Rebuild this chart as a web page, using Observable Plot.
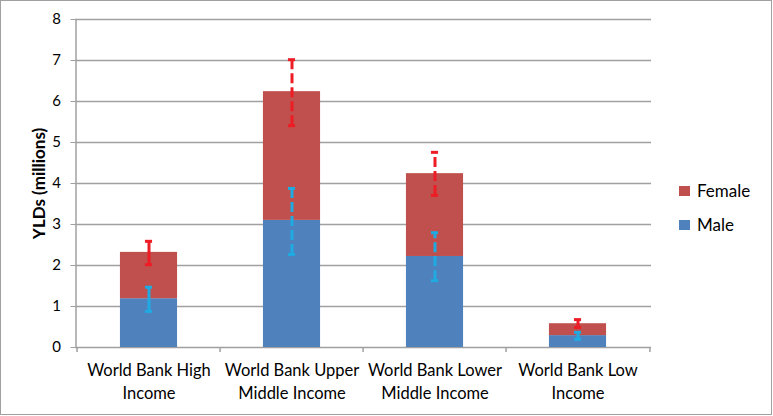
<!DOCTYPE html>
<html><head><meta charset="utf-8">
<script src="https://cdn.jsdelivr.net/npm/d3@7"></script>
<script src="https://cdn.jsdelivr.net/npm/@observablehq/plot@0.6"></script>
<style>
body{margin:0;background:#fff;}
#wrap{position:relative;width:773px;height:416px;font-family:Lato,"Open Sans",sans-serif;overflow:hidden;}
#frame{position:absolute;left:0;top:0;width:770px;height:413px;border:1.5px solid #a0a0a0;pointer-events:none;}
.leg{position:absolute;left:679px;font-size:17px;color:#000;display:flex;align-items:center;}
.leg span.sw{display:inline-block;width:11px;height:10px;margin-right:7px;}
</style></head>
<body><div id="wrap"><div id="chart"></div><div id="frame"></div>
<div class="leg" style="top:180px"><span class="sw" style="background:#C0504D"></span>Female</div>
<div class="leg" style="top:214px"><span class="sw" style="background:#4F81BD"></span>Male</div>
</div>
<script>
const categories = ["World Bank High Income", "World Bank Upper Middle Income", "World Bank Lower Middle Income", "World Bank Low Income"];
const tickLabels = ["World Bank High\nIncome", "World Bank Upper\nMiddle Income", "World Bank Lower\nMiddle Income", "World Bank Low\nIncome"];
const sexes = ["Male", "Female"];
const maleValues = [1.19, 3.10, 2.22, 0.29];
const femaleValues = [1.13, 3.14, 2.02, 0.29];
// error bar extents (female bars are drawn on the stacked total)
const maleErrLow = [0.88, 2.27, 1.63, 0.20];
const maleErrHigh = [1.47, 3.88, 2.80, 0.37];
const femaleErrLow = [2.02, 5.41, 3.71, 0.49];
const femaleErrHigh = [2.59, 7.02, 4.76, 0.68];
const yTicks = [0, 1, 2, 3, 4, 5, 6, 7, 8];

const rows = [];
categories.forEach((c, i) => {
  rows.push({cat: c, sex: "Male", value: maleValues[i]});
  rows.push({cat: c, sex: "Female", value: femaleValues[i]});
});
const errs = [];
categories.forEach((c, i) => {
  errs.push({cat: c, sex: "Male", lo: maleErrLow[i], hi: maleErrHigh[i]});
  errs.push({cat: c, sex: "Female", lo: femaleErrLow[i], hi: femaleErrHigh[i]});
});

const W = 773, H = 416, ML = 75.5, MR = 122, MT = 19, MB = 69;
const step = (W - ML - MR) / categories.length;
const inset = (step - 58) / 2;
const errColor = {Male: "#1FAAE2", Female: "#EE1C25"};
const solid = d => d.cat === categories[0];
const dashed = d => d.cat !== categories[0];

function errMarks(filter, dash) {
  const capInset = step / 2 - 4;
  return [
    Plot.ruleX(errs, {filter, x: "cat", y1: "lo", y2: "hi", stroke: d => errColor[d.sex], strokeWidth: 3, strokeDasharray: dash}),
    Plot.tickY(errs, {filter, x: "cat", y: "lo", stroke: d => errColor[d.sex], strokeWidth: 3, insetLeft: capInset, insetRight: capInset}),
    Plot.tickY(errs, {filter, x: "cat", y: "hi", stroke: d => errColor[d.sex], strokeWidth: 3, insetLeft: capInset, insetRight: capInset})
  ];
}

const chart = Plot.plot({
  width: W, height: H,
  marginLeft: ML, marginRight: MR, marginTop: MT, marginBottom: MB,
  style: {fontFamily: "Lato, 'Open Sans', sans-serif", fontSize: "15px", color: "#000", background: "transparent"},
  x: {domain: categories, padding: 0, label: null},
  y: {domain: [0, 8], label: null},
  color: {domain: sexes, range: ["#4F81BD", "#C0504D"]},
  marks: [
    Plot.ruleY(yTicks, {stroke: "#A0A0A0", strokeWidth: 1.5}),
    Plot.frame({anchor: "left", stroke: "#A0A0A0", strokeWidth: 1.5}),
    Plot.ruleX(categories, {x: d => d, y1: 0, y2: 0, dx: -step/2, insetBottom: -5, stroke: "#A0A0A0", strokeWidth: 1.5}),
    Plot.ruleX(categories.slice(-1), {x: d => d, y1: 0, y2: 0, dx: step/2, insetBottom: -5, stroke: "#A0A0A0", strokeWidth: 1.5}),
    Plot.barY(rows, Plot.stackY({x: "cat", y: "value", fill: "sex", order: sexes, insetLeft: inset, insetRight: inset})),
    ...errMarks(solid, null),
    ...errMarks(dashed, "10,4"),
    Plot.axisY({ticks: yTicks, tickSize: 5, tickPadding: 10, stroke: "#A0A0A0", fontSize: 15}),
    Plot.axisX({tickSize: 0, tickPadding: 13, tickFormat: d => tickLabels[categories.indexOf(d)], fontSize: 16.5, lineHeight: 1.35}),
    Plot.text(["YLDs (millions)"], {frameAnchor: "left", dx: -36, rotate: -90, textAnchor: "middle", fontWeight: "bold", fontSize: 17, text: d => d})
  ]
});
document.getElementById("chart").appendChild(chart);
</script>
</body></html>
